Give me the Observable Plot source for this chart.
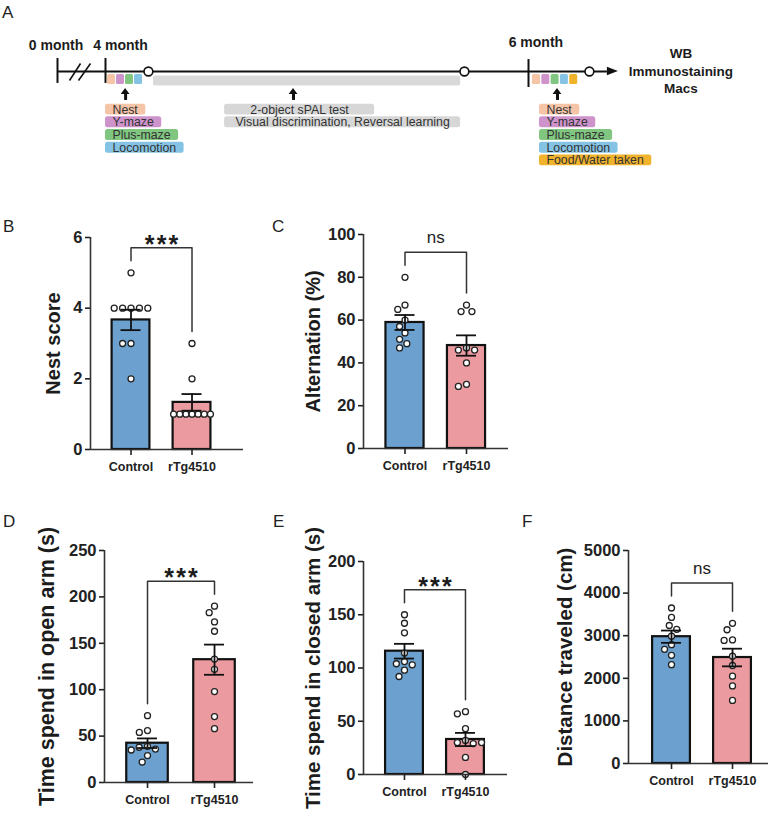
<!DOCTYPE html>
<html>
<head>
<meta charset="utf-8">
<script src="https://cdn.jsdelivr.net/npm/d3@7"></script>
<script src="https://cdn.jsdelivr.net/npm/@observablehq/plot@0.6"></script>
<style>
  html, body { margin: 0; padding: 0; background: #fff; }
  #fig { position: relative; width: 774px; height: 815px; overflow: hidden;
         font-family: "Liberation Sans", Arial, sans-serif; }
  .panel { position: absolute; }
  .letter { position: absolute; font-size: 17px; line-height: 17px; color: #222; }
</style>
</head>
<body>
<div id="fig"></div>
<script>
// ---------------- data ----------------
const groups = ["Control", "rTg4510"];
const groupColors = ["#6ba0cf", "#eb9b9f"];

// individual animals (n = 9 per group)
const nestControl = [5, 4, 4, 4, 4, 4, 3, 3, 2];
const nestTg = [3, 2, 1, 1, 1, 1, 1, 1, 1];
const alternationControl = [80, 67, 65, 60, 57, 54, 51, 49, 47];
const alternationTg = [67, 64, 64, 47, 46, 46, 40, 30, 29];
const openArmControl = [72, 56, 54, 39, 38, 36, 35, 29, 22];
const openArmTg = [190, 183, 173, 163, 133, 122, 98, 71, 58];
const closedArmControl = [150, 142, 133, 114, 106, 104, 103, 98, 92];
const closedArmTg = [59, 57, 43, 32, 30, 29, 30, 16, 0];
const distanceControl = [3650, 3430, 3240, 3150, 2990, 2790, 2680, 2540, 2320];
const distanceTg = [3290, 3140, 2900, 2890, 2520, 2300, 2050, 1820, 1480];

const nestTicks = [0, 2, 4, 6];
const alternationTicks = [0, 20, 40, 60, 80, 100];
const openArmTicks = [0, 50, 100, 150, 200, 250];
const closedArmTicks = [0, 50, 100, 150, 200];
const distanceTicks = [0, 1000, 2000, 3000, 4000, 5000];

// study timeline
const milestones = ["0 month", "4 month", "6 month"];
const milestoneMonths = [0, 4, 6];
const earlyBattery = ["Nest", "Y-maze", "Plus-maze", "Locomotion"];
const lateBattery = ["Nest", "Y-maze", "Plus-maze", "Locomotion", "Food/Water taken"];
const touchscreenTests = ["2-object sPAL test", "Visual discrimination, Reversal learning"];
const endpointAssays = ["WB", "Immunostaining", "Macs"];
const testColors = {
  "Nest": "#f6c4a7",
  "Y-maze": "#cf93cc",
  "Plus-maze": "#80c580",
  "Locomotion": "#84c3e4",
  "Food/Water taken": "#f1b22c"
};

// ---------------- helpers ----------------
const fig = document.getElementById("fig");
const FONT = "Liberation Sans, Arial, sans-serif";
const INK = "#1c1c1c";

function place(node, left, top) {
  node.classList.add("panel");
  node.style.left = left + "px";
  node.style.top = top + "px";
  fig.appendChild(node);
}

function letter(t, left, capTop) {
  const d = document.createElement("div");
  d.className = "letter";
  d.textContent = t;
  d.style.left = left + "px";
  d.style.top = (capTop - 2) + "px";
  fig.appendChild(d);
}

// simple beeswarm: horizontal pixel offsets so that dots of diameter D don't overlap
function swarm(vals, k, D, maxHalf) {
  const placed = [];
  for (const v of vals) {
    const y = v * k;
    const cands = [0];
    for (const p of placed) {
      const dy = y - p.y;
      if (Math.abs(dy) < D) {
        const dx = Math.sqrt(D * D - dy * dy);
        cands.push(p.x + dx, p.x - dx);
      }
    }
    cands.sort((a, b) => Math.abs(a) - Math.abs(b) || a - b);
    const x = cands.find(c => placed.every(p => (c - p.x) ** 2 + (y - p.y) ** 2 >= D * D - 1e-6));
    placed.push({x, y});
  }
  const m = d3.max(placed, p => Math.abs(p.x));
  const f = m > maxHalf ? maxHalf / m : 1;
  return placed.map(p => p.x * f);
}

// bar + scatter panel (mean ± SEM)
function barPanel(cfg) {
  const [sx, sy, sw, sh] = cfg.box;
  const [fl, ft, fr, fb] = cfg.frame;
  const [x0, x1] = cfg.xDomain;
  const fw = fr - fl, fh = fb - ft;
  const pxX = fw / (x1 - x0), pxY = fh / cfg.ymax;
  const series = [cfg.control, cfg.tg];
  const halfBar = 0.31;

  const summary = series.map((vals, i) => {
    const m = d3.mean(vals);
    const s = d3.deviation(vals) / Math.sqrt(vals.length);
    return {i, group: groups[i], mean: m, lo: m - s, hi: m + s, max: d3.max(vals)};
  });
  const points = series.flatMap((vals, i) => {
    const off = swarm(vals, pxY, 8.4, halfBar * pxX - 0.5);
    return vals.map((v, j) => ({i, value: v, x: i + off[j] / pxX}));
  });
  const cap = 10 / pxX;
  const top = d3.max(summary, d => d.max) + 25 / pxY;
  const bracket = [
    {x: 0, y: summary[0].max + 12 / pxY},
    {x: 0, y: top},
    {x: 1, y: top},
    {x: 1, y: summary[1].max + 12 / pxY}
  ];
  const isStars = cfg.sig !== "ns";

  const svg = Plot.plot({
    width: sw, height: sh,
    marginLeft: fl - sx, marginRight: sx + sw - fr,
    marginTop: ft - sy, marginBottom: sy + sh - fb,
    x: {type: "linear", domain: cfg.xDomain},
    y: {type: "linear", domain: [0, cfg.ymax]},
    style: {fontFamily: FONT, overflow: "visible", background: "none"},
    marks: [
      Plot.rect(summary, {
        x1: d => d.i - halfBar, x2: d => d.i + halfBar, y1: 0, y2: "mean",
        fill: d => groupColors[d.i], stroke: "#111", strokeWidth: 2.2
      }),
      Plot.dot(points, {x: "x", y: "value", r: 3, fill: "white", stroke: "#222", strokeWidth: 1.3}),
      Plot.ruleX(summary, {x: "i", y1: "lo", y2: "hi", stroke: "#111", strokeWidth: 1.8}),
      Plot.ruleY(summary, {y: "hi", x1: d => d.i - cap, x2: d => d.i + cap, stroke: "#111", strokeWidth: 1.8}),
      Plot.ruleY(summary, {y: "lo", x1: d => d.i - cap, x2: d => d.i + cap, stroke: "#111", strokeWidth: 1.8}),
      Plot.ruleX([x0], {y1: 0, y2: cfg.ymax, stroke: "#333", strokeWidth: 1.6}),
      Plot.ruleY([0], {x1: x0, x2: x1, stroke: "#333", strokeWidth: 1.6}),
      Plot.axisY({
        ticks: cfg.ticks, tickFormat: d => String(d), tickSize: 5, tickPadding: 3, label: null,
        fontSize: 16.5, fontWeight: "bold", color: "#222", strokeWidth: 1.6
      }),
      Plot.axisX({
        ticks: [0, 1], tickFormat: i => groups[i], tickSize: 6, tickPadding: 7, label: null,
        fontSize: 12.5, fontWeight: "bold", color: "#222", strokeWidth: 1.6
      }),
      Plot.text([cfg.label], {
        frameAnchor: "left", rotate: -90, dx: cfg.labelDx,
        fontSize: cfg.labelSize, fontWeight: "bold", fill: INK,
        textAnchor: "middle", lineAnchor: "middle"
      }),
      Plot.line(bracket, {x: "x", y: "y", stroke: "#333", strokeWidth: 1.5}),
      Plot.text([isStars ? "*\u200A*\u200A*" : "ns"], {
        x: () => 0.5, y: () => top, lineAnchor: "bottom",
        dy: isStars ? 5 : -9,
        fontSize: isStars ? 25 : 17, fontWeight: isStars ? "bold" : "normal", fill: INK
      })
    ]
  });
  place(svg, sx, sy);
}

// ---------------- panel A: study timeline ----------------
(function timeline() {
  const xRange = [57, 105, 528];
  const pxPerMonth = (xRange[2] - xRange[1]) / (milestoneMonths[2] - milestoneMonths[1]);
  const px = p => p / pxPerMonth;               // pixel length -> months (after 4 months)
  const rowPx = 12.7;                            // y is measured in label rows, 0 = timeline

  const ctx = document.createElement("canvas").getContext("2d");
  const labelFont = 12.3;
  ctx.font = `${labelFont}px "Liberation Sans"`;
  const tw = t => ctx.measureText(t).width;

  const arrowBase = 6.373, arrowTip = 6.425;
  const checkpoints = [4.203, 5.697, 6.288];
  const upArrows = [4.095, 4.889, 6.137];
  const earlyStart = 4.0, lateStart = 6.052, touchStart = 4.563;
  const touchWidths = [150, 236];

  const strip = (tests, start, pitch) => tests.map((t, i) => ({
    t, x1: start + px(pitch * i), x2: start + px(pitch * i + 8)
  }));
  const earlyStrip = strip(earlyBattery, 4 + px(2), 9);
  const lateStrip = strip(lateBattery, 6 + px(4), 9.3);

  const batteryBoxes = [
    ...earlyBattery.map((t, i) => ({t, row: 3 + i, x1: earlyStart, w: tw(t) + 15, fill: testColors[t]})),
    ...lateBattery.map((t, i) => ({t, row: 3 + i, x1: lateStart, w: tw(t) + 15, fill: testColors[t]}))
  ];
  const touchBoxes = touchscreenTests.map((t, i) => ({t, row: 3 + i, x1: touchStart, w: touchWidths[i], fill: "#d7d7d7"}));
  const allBoxes = [...batteryBoxes, ...touchBoxes];

  const arrowHeads = upArrows.flatMap((m, k) => [
    {k, y: 1.81, x1: m - px(4.4), x2: m + px(4.4)},
    {k, y: 1.34, x1: m, x2: m}
  ]);

  const monthLabelX = [-0.125, 4.071, 6.035];
  const monthLabelRow = [-2.05, -2.05, -2.3];
  const endpointRows = [-1.42, 0.03, 1.34];

  const svg = Plot.plot({
    width: 774, height: 175,
    margin: 0,
    x: {type: "linear", domain: milestoneMonths, range: xRange, axis: null},
    y: {type: "linear", domain: [-71 / rowPx, (175 - 71) / rowPx], range: [0, 175], axis: null},
    style: {fontFamily: FONT, overflow: "visible", background: "none"},
    marks: [
      // touchscreen window under the timeline
      Plot.rect([0], {x1: () => 4.227, x2: () => 5.679, y1: () => 0.35, y2: () => 1.15, fill: "#d9d9d9", rx: 2}),
      // main axis with arrow
      Plot.ruleY([0], {x1: 0, x2: arrowBase, stroke: "#111", strokeWidth: 2}),
      Plot.areaY([{x: arrowBase, y1: -0.33, y2: 0.33}, {x: arrowTip, y1: 0, y2: 0}],
        {x: "x", y1: "y1", y2: "y2", fill: "#111"}),
      Plot.ruleX(milestoneMonths.slice(0, 2), {y1: -1.02, y2: 0.94, stroke: "#111", strokeWidth: 2}),
      Plot.ruleX(milestoneMonths.slice(2), {y1: -0.94, y2: 1.26, stroke: "#111", strokeWidth: 2}),
      // axis break
      Plot.link([{a: 1.0, b: 1.92}, {a: 1.75, b: 2.75}],
        {x1: "a", x2: "b", y1: () => 0.71, y2: () => -0.63, stroke: "#111", strokeWidth: 1.6}),
      // test battery colour strips
      Plot.rect([...earlyStrip, ...lateStrip], {
        x1: "x1", x2: "x2", y1: () => 0.24, y2: () => 1.02, fill: d => testColors[d.t], rx: 1.5
      }),
      Plot.dot(checkpoints, {x: d => d, y: () => 0, r: 4.4, fill: "white", stroke: "#111", strokeWidth: 1.6}),
      // up arrows
      Plot.ruleX(upArrows, {x: d => d, y1: () => 1.7, y2: () => 2.28, stroke: "#111", strokeWidth: 3}),
      Plot.areaX(arrowHeads, {y: "y", x1: "x1", x2: "x2", z: "k", fill: "#111"}),
      // labelled boxes
      Plot.rect(allBoxes, {
        x1: "x1", x2: d => d.x1 + px(d.w), y1: d => d.row - 0.43, y2: d => d.row + 0.43,
        fill: "fill", rx: 2.5
      }),
      Plot.text(batteryBoxes, {
        x: d => d.x1 + px(7), y: "row", text: "t",
        textAnchor: "start", lineAnchor: "middle", fontSize: labelFont, fill: "#333"
      }),
      Plot.text(touchBoxes, {
        x: d => d.x1 + px(d.w / 2), y: "row", text: "t",
        textAnchor: "middle", lineAnchor: "middle", fontSize: labelFont, fill: "#333"
      }),
      Plot.text(milestones, {
        x: (d, i) => monthLabelX[i], y: (d, i) => monthLabelRow[i], text: d => d,
        fontSize: 14, fontWeight: "bold", fill: INK, lineAnchor: "middle"
      }),
      Plot.text(endpointAssays, {
        x: () => 6.721, y: (d, i) => endpointRows[i], text: d => d,
        fontSize: 13.5, fontWeight: "bold", fill: INK, lineAnchor: "middle"
      })
    ]
  });
  place(svg, 0, 0);
})();

// ---------------- panels B–F ----------------
barPanel({control: nestControl, tg: nestTg, ticks: nestTicks, ymax: 6, sig: "***",
  label: "Nest score", labelSize: 20, labelDx: -37,
  box: [0, 190, 260, 300], frame: [90, 237, 243, 449], xDomain: [-0.664, 1.844]});
barPanel({control: alternationControl, tg: alternationTg, ticks: alternationTicks, ymax: 100, sig: "ns",
  label: "Alternation (%)", labelSize: 20, labelDx: -50,
  box: [260, 190, 260, 300], frame: [363, 234, 508, 448], xDomain: [-0.675, 1.683]});
barPanel({control: openArmControl, tg: openArmTg, ticks: openArmTicks, ymax: 250, sig: "***",
  label: "Time spend in open arm (s)", labelSize: 21.5, labelDx: -57,
  box: [0, 490, 260, 325], frame: [104, 550, 253, 782], xDomain: [-0.642, 1.582]});
barPanel({control: closedArmControl, tg: closedArmTg, ticks: closedArmTicks, ymax: 200, sig: "***",
  label: "Time spend in closed arm (s)", labelSize: 20.5, labelDx: -50,
  box: [260, 490, 260, 325], frame: [363, 561, 507, 774], xDomain: [-0.672, 1.689]});
barPanel({control: distanceControl, tg: distanceTg, ticks: distanceTicks, ymax: 5000, sig: "ns",
  label: "Distance traveled (cm)", labelSize: 20.5, labelDx: -63,
  box: [520, 490, 254, 325], frame: [628, 550, 768, 763], xDomain: [-0.705, 1.59]});

letter("A", 2, 6);
letter("B", 3, 220);
letter("C", 272, 220);
letter("D", 3, 515);
letter("E", 273, 515);
letter("F", 522, 515);
</script>
</body>
</html>
